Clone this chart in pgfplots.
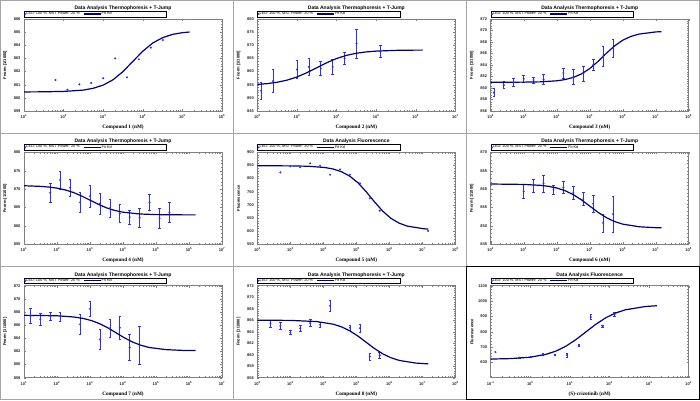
\documentclass[border=0pt]{standalone}
\usepackage{fontspec}
\setmainfont{Liberation Sans}
\newfontfamily\timesfont{Liberation Serif}
\usepackage{pgfplots}
\pgfplotsset{compat=1.18}

\definecolor{ptblue}{RGB}{45,45,255}
\definecolor{fitnavy}{RGB}{0,0,128}
\definecolor{framegray}{RGB}{165,165,165}

\pgfplotsset{
  /pgf/number format/assume math mode=true,
  /pgf/number format/1000 sep={},
  log number format basis/.code 2 args={#1\textsuperscript{\pgfmathprintnumber{#2}}},
  every axis/.append style={
    xmode=log, scale only axis, width=198pt, height=92pt, anchor=north west,
    axis line style={gray, line width=0.4pt},
    tick style={gray, line width=0.3pt},
    major tick length=2pt, minor tick length=1.2pt,
    tick align=inside, minor y tick num=4,
    tick label style={font=\fontsize{4}{4}\selectfont\bfseries, text=black!85},
    title style={font=\fontsize{5}{5}\selectfont\bfseries, at={(axis description cs:0.5,1.052)}, anchor=center, yshift=0pt},
    xlabel style={font=\fontsize{5.2}{5.2}\selectfont\timesfont\bfseries, at={(axis description cs:0.5,-0.175)}, anchor=center},
    ylabel style={font=\fontsize{4}{4}\selectfont\bfseries, at={(axis description cs:-0.095,0.5)}, anchor=center},
    legend style={at={(0,1)}, anchor=south west, yshift=2pt, draw=black, line width=0.3pt,
      font=\fontsize{3.8}{4}\selectfont, inner sep=0.3pt, nodes={inner sep=0.35pt},
      /tikz/every even column/.append style={column sep=3pt}},
    legend columns=2, legend cell align=left,
  },
}
\newcommand{\legA}{\addlegendentry{LED: 100 \%, MST Power: 20 \%}\addlegendentry{\makebox[64pt][l]{Fit Kd}}}
\pgfplotsset{
  pts/.style={only marks, mark=*, mark size=0.8pt, color=ptblue,
    error bars/y dir=both, error bars/y explicit,
    error bars/error bar style={ptblue, line width=0.7pt},
    error bars/error mark options={ptblue, rotate=90, mark size=1.3pt, line width=0.5pt}},
  fitline/.style={fitnavy, line width=1.2pt, no marks},
}

\begin{document}
\begin{tikzpicture}
\fill[white] (0,0) rectangle (700pt,400pt);
\useasboundingbox (0,0) rectangle (700pt,400pt);
\draw[framegray, line width=0.6pt] (0.3pt,0.3pt) rectangle (699.7pt,399.7pt);
\draw[framegray, line width=0.6pt] (233.33pt,0) -- (233.33pt,400pt) (466.67pt,0) -- (466.67pt,400pt)
  (0,266.67pt) -- (700pt,266.67pt) (0,133.33pt) -- (700pt,133.33pt);

% Panel 1
\begin{axis}[at={(24pt,381pt)}, xmin=10, xmax=1e6, ymin=859, ymax=866, ytick={859,...,866},
  title={Data Analysis Thermophoresis + T-Jump}, xlabel={Compound 1 (nM)}, ylabel={Fnorm [1/1000]}]
\addplot[pts] coordinates {(62.5,861.36) (125,860.62) (250,861.03) (500,861.13) (1000,861.49) (2000,863.0)
  (4000,861.56) (8000,862.93) (16000,863.82) (32000,864.4)};
\addplot[fitline] coordinates {(10,860.45) (31.6,860.46) (100,860.49) (316,860.59) (562,860.73) (1000,860.97)
  (1778,861.38) (3162,862.00) (5623,862.78) (10000,863.55) (17783,864.17) (31623,864.58) (56234,864.83)
  (100000,864.96) (151356,865.01)};
\legA
\end{axis}

% Panel 2
\begin{axis}[at={(257.33pt,381pt)}, xmin=1e2, xmax=1e7, ymin=845, ymax=880, ytick={845,850,...,880},
  title={Data Analysis Thermophoresis + T-Jump}, xlabel={Compound 2 (nM)}, ylabel={Fnorm [1/1000]}]
\addplot[pts] coordinates {(125,852.7) +- (0,3.2) (250,856.4) +- (0,4.3) (1000,860.8) +- (0,3.5)
  (2000,861.8) +- (0,3.2) (4000,861.2) +- (0,2.7) (8000,861.8) +- (0,2.7) (16000,865.0) +- (0,2.3)
  (32000,870.7) +- (0,5.5) (128000,867.6) +- (0,2.3)};
\addplot[fitline] coordinates {(100,855.11) (177.8,855.42) (316.2,855.93) (562.3,856.74) (1000,857.94)
  (1778,859.56) (3162,861.45) (5623,863.34) (10000,864.96) (17783,866.16) (31623,866.97) (56234,867.48)
  (100000,867.78) (316228,868.07) (1000000,868.16) (1500000,868.17)};
\legA
\end{axis}

% Panel 3
\begin{axis}[at={(490.67pt,381pt)}, xmin=1e2, xmax=1e8, ymin=856, ymax=872, ytick={856,858,...,872},
  title={Data Analysis Thermophoresis + T-Jump}, xlabel={Compound 3 (nM)}, ylabel={Fnorm [1/1000]}]
\addplot[pts] coordinates {(125,859.2) +- (0,0.7) (250,860.5) +- (0,0.6) (500,861.0) +- (0,0.7)
  (1000,861.6) +- (0,0.6) (2000,861.4) +- (0,0.5) (4000,861.5) +- (0,0.9) (16000,862.6) +- (0,0.9)
  (32000,861.9) +- (0,1.3) (64000,862.5) +- (0,1.3) (128000,864.0) +- (0,1.0) (256000,865.5) +- (0,1.7)
  (512000,866.9) +- (0,1.6)};
\addplot[fitline] coordinates {(100,861.00) (1000,861.02) (3162,861.07) (10000,861.25) (17783,861.46)
  (31623,861.83) (56234,862.44) (100000,863.37) (177828,864.61) (316228,866.01) (562341,867.30)
  (1000000,868.31) (1778279,868.97) (3162278,869.38) (10000000,869.75) (15000000,869.80)};
\legA
\end{axis}

% Panel 4
\begin{axis}[at={(24pt,247.67pt)}, xmin=10, xmax=1e7, ymin=855, ymax=880, ytick={855,860,...,880},
  title={Data Analysis Thermophoresis + T-Jump}, xlabel={Compound 4 (nM)}, ylabel={Fnorm [1/1000]}]
\addplot[pts] coordinates {(62.5,869.0) +- (0,2.5) (125,872.5) +- (0,2.4) (250,870.4) +- (0,2.2)
  (500,866.4) +- (0,2.7) (1000,868.1) +- (0,2.9) (2000,866.1) +- (0,2.8) (4000,864.8) +- (0,2.5)
  (8000,863.4) +- (0,2.4) (16000,862.4) +- (0,1.9) (32000,862.2) +- (0,2.6) (64000,866.4) +- (0,2.1)
  (128000,862.1) +- (0,2.6) (256000,863.7) +- (0,2.6)};
\addplot[fitline] coordinates {(10,870.92) (31.6,870.75) (56.2,870.57) (100,870.27) (177.8,869.79)
  (316.2,869.08) (562.3,868.12) (1000,867.00) (1778,865.88) (3162,864.92) (5623,864.21) (10000,863.73)
  (31623,863.25) (100000,863.08) (316228,863.02) (1584893,863.00)};
\legA
\end{axis}

% Panel 5
\begin{axis}[at={(257.33pt,247.67pt)}, xmin=1e2, xmax=1e8, ymin=550, ymax=900, ytick={550,600,...,900},
  title={Data Analysis Fluorescence}, xlabel={Compound 5 (nM)}, ylabel={Fluorescence}]
\addplot[pts] coordinates {(500,823.8) (1000,846.6) (2000,842.8) (4000,858) (8000,849) (16000,815)
  (32000,835) (64000,815) (128000,782) (256000,725) (512000,678) (15000000,601)};
\addplot[fitline] coordinates {(100,848.95) (1122,848.44) (3548,847.02) (11220,842.17) (19953,836.43)
  (35481,826.31) (63096,809.47) (112202,784.10) (199526,749.94) (354813,711.63) (630957,676.25)
  (1122018,648.68) (1995262,630.38) (3548134,619.15) (11220185,609.15) (15135612,607.9)};
\legA
\end{axis}

% Panel 6
\begin{axis}[at={(490.67pt,247.67pt)}, xmin=1e2, xmax=1e8, ymin=845, ymax=870, ytick={845,850,...,870},
  title={Data Analysis Thermophoresis + T-Jump}, xlabel={Compound 6 (nM)}, ylabel={Fnorm [1/1000]}]
\addplot[pts] coordinates {(1000,859.4) +- (0,2.0) (2000,861.0) +- (0,1.8) (4000,861.5) +- (0,2.3)
  (8000,859.8) +- (0,1.3) (16000,860.5) +- (0,1.7) (32000,859.0) +- (0,1.7) (64000,857.3) +- (0,1.8)
  (128000,856.0) +- (0,2.3) (256000,850.8) +- (0,2.5) (512000,853.2) +- (0,4.8)};
\addplot[fitline] coordinates {(100,861.39) (1000,861.28) (3162,861.03) (5623,860.76) (10000,860.31)
  (17783,859.59) (31623,858.52) (56234,857.08) (100000,855.40) (177828,853.72) (316228,852.28)
  (562341,851.21) (1000000,850.49) (3162278,849.77) (10000000,849.52) (15000000,849.48)};
\legA
\end{axis}

% Panel 7
\begin{axis}[at={(24pt,114.33pt)}, xmin=10, xmax=1e7, ymin=858, ymax=872, ytick={858,860,...,872},
  title={Data Analysis Thermophoresis + T-Jump}, xlabel={Compound 7 (nM)}, ylabel={Fnorm [1/1000]}]
\addplot[pts] coordinates {(15.6,867.4) +- (0,1.1) (31.25,866.9) +- (0,0.9) (62.5,867.4) +- (0,0.6)
  (125,867.3) +- (0,0.7) (500,866.1) +- (0,1.5) (1000,868.5) +- (0,1.2) (2000,863.8) +- (0,1.5)
  (4000,865.5) +- (0,1.4) (8000,865.6) +- (0,1.8) (16000,862.6) +- (0,2.0) (32000,862.9) +- (0,2.9)};
\addplot[fitline] coordinates {(10,867.49) (100,867.42) (316.2,867.24) (631,867.01) (1122,866.68)
  (1995,866.20) (3548,865.56) (6310,864.80) (11220,864.04) (19953,863.40) (35481,862.92) (63096,862.59)
  (199526,862.27) (630957,862.15) (1584893,862.12)};
\legA
\end{axis}

% Panel 8
\begin{axis}[at={(257.33pt,114.33pt)}, xmin=1e2, xmax=1e8, ymin=856, ymax=872, ytick={856,858,...,872},
  title={Data Analysis Thermophoresis + T-Jump}, xlabel={Compound 8 (nM)}, ylabel={Fnorm [1/1000]}]
\addplot[pts] coordinates {(250,865.45) +- (0,0.6) (500,865.0) +- (0,0.6) (1000,863.9) +- (0,0.4)
  (2000,864.6) +- (0,0.5) (4000,865.5) +- (0,0.6) (8000,865.2) +- (0,0.4) (16000,868.5) +- (0,0.9)
  (64000,864.7) +- (0,0.4) (128000,864.6) +- (0,0.7) (256000,859.7) +- (0,0.6) (512000,859.9) +- (0,0.6)};
\addplot[fitline] coordinates {(100,866.00) (1000,865.96) (6310,865.76) (19953,865.30) (35481,864.84)
  (63096,864.15) (112202,863.23) (199526,862.15) (354813,861.07) (630957,860.15) (1122018,859.46)
  (1995262,859.00) (6309573,858.54) (15135612,858.40)};
\legA
\end{axis}

% Panel 9
\draw[black, line width=0.8pt] (466.67pt,0.4pt) rectangle (699.6pt,133.33pt);
\begin{axis}[at={(490.67pt,114.33pt)}, xmin=0.1, xmax=1e4, ymin=500, ymax=1100, ytick={600,700,...,1100},
  title={Data Analysis Fluorescence}, xlabel={(S)-crizotinib (nM)}, ylabel={Fluorescence}]
\addplot[pts] coordinates {(0.132,667) (0.527,630) +- (0,3) (1.05,635) +- (0,5) (2.11,652) +- (0,6)
  (4.22,648) +- (0,5) (8.44,648) +- (0,12) (16.9,711) +- (0,8) (33.8,896) +- (0,15) (67.5,837) +- (0,8)
  (135,915) +- (0,12)};
\addplot[fitline] coordinates {(0.1,621.4) (0.316,624.4) (1,633.5) (2.512,652.3) (4.467,673.6) (7.943,705.2)
  (14.125,747.8) (25.119,797.5) (44.668,847.2) (79.433,889.8) (141.25,921.4) (251.19,942.7) (794.33,964.0)
  (1584.9,969.3)};
\legA
\end{axis}
\end{tikzpicture}
\end{document}
